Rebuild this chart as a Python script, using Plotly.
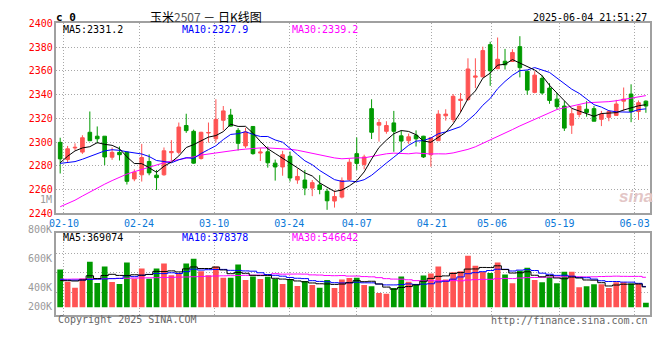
import plotly.graph_objects as go

# ---------------- data ----------------
dates = ["02-07",
         "02-10", "02-11", "02-12", "02-13", "02-14", "02-17", "02-18", "02-19", "02-20", "02-21",
         "02-24", "02-25", "02-26", "02-27", "02-28",
         "03-03", "03-04", "03-05", "03-06", "03-07", "03-10", "03-11", "03-12", "03-13", "03-14",
         "03-17", "03-18", "03-19", "03-20", "03-21", "03-24", "03-25", "03-26", "03-27", "03-28", "03-31",
         "04-01", "04-02", "04-03", "04-07", "04-08", "04-09", "04-10", "04-11", "04-14", "04-15", "04-16",
         "04-17", "04-18", "04-21", "04-22", "04-23", "04-24", "04-25", "04-28", "04-29", "04-30",
         "05-06", "05-07", "05-08", "05-09", "05-12", "05-13", "05-14", "05-15", "05-16",
         "05-19", "05-20", "05-21", "05-22", "05-23", "05-26", "05-27", "05-28", "05-29", "05-30",
         "06-03", "06-04", "06-05"]

open_ = [2299.7, 2285.2, 2295.0, 2291.5, 2308.2, 2304.9, 2304.9, 2287.2, 2291.3, 2291.5,
         2268.9, 2272.4, 2283.6, 2272.1, 2272.4, 2291.0, 2291.3, 2313.9, 2309.0, 2286.1,
         2307.6, 2302.7, 2318.3, 2322.7, 2309.8, 2296.7, 2313.1, 2290.7, 2291.8, 2282.2,
         2279.0, 2288.0, 2268.0, 2268.0, 2261.2, 2263.9, 2258.5, 2250.3, 2253.6, 2268.3,
         2290.2, 2281.1, 2328.1, 2314.2, 2309.0, 2316.1, 2305.2, 2301.1, 2305.7, 2304.9,
         2289.3, 2301.1, 2322.1, 2318.9, 2335.0, 2335.8, 2354.6, 2354.9, 2382.0, 2361.7,
         2368.0, 2367.8, 2380.3, 2359.6, 2341.8, 2353.6, 2345.4, 2336.1, 2330.3, 2314.2,
         2323.2, 2327.6, 2328.1, 2319.1, 2320.8, 2322.4, 2334.4, 2340.4, 2325.7, 2334.4]
high = [2303.6, 2296.7, 2298.9, 2305.7, 2325.7, 2313.1, 2305.0, 2295.4, 2296.2, 2292.0,
        2277.0, 2298.4, 2289.6, 2276.5, 2295.4, 2301.6, 2316.4, 2323.8, 2310.4, 2308.6,
        2316.4, 2336.0, 2330.3, 2327.9, 2311.7, 2312.0, 2313.3, 2294.8, 2296.2, 2285.2,
        2292.6, 2292.0, 2277.6, 2276.5, 2268.0, 2272.1, 2260.7, 2259.3, 2270.2, 2285.8,
        2303.8, 2289.3, 2336.0, 2319.4, 2317.5, 2326.2, 2309.8, 2307.1, 2309.8, 2305.2,
        2303.8, 2326.8, 2327.6, 2340.4, 2341.3, 2370.5, 2370.5, 2380.3, 2384.4, 2388.0,
        2378.4, 2378.1, 2389.1, 2359.6, 2359.6, 2356.3, 2349.5, 2341.3, 2334.4, 2328.4,
        2330.3, 2334.4, 2330.3, 2326.2, 2326.8, 2335.5, 2345.9, 2348.6, 2335.0, 2335.0]
low = [2273.5, 2282.5, 2292.9, 2290.0, 2300.8, 2298.9, 2280.6, 2285.0, 2284.4, 2264.2,
       2267.0, 2266.7, 2272.0, 2259.6, 2271.6, 2284.2, 2289.6, 2307.7, 2281.7, 2285.2,
       2299.5, 2299.5, 2309.8, 2313.0, 2292.9, 2294.8, 2289.3, 2284.0, 2278.4, 2267.5,
       2271.6, 2266.7, 2264.8, 2255.2, 2254.4, 2256.0, 2242.9, 2244.8, 2252.5, 2267.2,
       2276.5, 2277.0, 2302.5, 2300.3, 2307.0, 2291.8, 2291.5, 2298.4, 2296.2, 2286.6,
       2279.2, 2301.0, 2318.0, 2316.7, 2324.9, 2334.5, 2345.4, 2354.4, 2347.3, 2361.7,
       2361.0, 2367.8, 2354.4, 2339.9, 2341.0, 2339.9, 2332.2, 2327.6, 2309.3, 2306.8,
       2320.8, 2321.3, 2317.5, 2313.4, 2317.5, 2322.4, 2326.2, 2316.7, 2318.6, 2324.6]
close = [2285.8, 2294.3, 2295.5, 2303.6, 2301.1, 2302.7, 2287.4, 2291.3, 2289.3, 2266.9,
         2274.6, 2286.9, 2274.0, 2270.0, 2292.6, 2292.0, 2312.6, 2309.6, 2282.2, 2308.2,
         2308.0, 2319.1, 2326.2, 2313.4, 2298.9, 2308.5, 2290.2, 2291.5, 2282.5, 2279.0,
         2289.3, 2269.7, 2271.0, 2261.2, 2265.8, 2260.1, 2250.5, 2254.1, 2267.5, 2283.0,
         2282.0, 2287.4, 2308.2, 2316.4, 2313.9, 2309.0, 2300.8, 2304.4, 2302.7, 2287.4,
         2303.6, 2323.5, 2323.5, 2338.5, 2336.0, 2361.5, 2355.5, 2377.0, 2360.0, 2369.7,
         2365.0, 2375.4, 2362.6, 2343.7, 2356.3, 2341.3, 2335.0, 2329.8, 2311.7, 2323.8,
         2330.3, 2324.9, 2317.5, 2323.5, 2325.7, 2332.0, 2336.1, 2325.7, 2333.1, 2330.3]
# volume in thousands of lots
volume_k = [695, 470, 356, 529, 838, 445, 749, 463, 428, 820,
            524, 713, 524, 713, 802, 588, 618, 802, 891, 659,
            588, 749, 542, 542, 784, 499, 565, 517, 559, 517,
            428, 517, 392, 481, 410, 356, 499, 351, 511, 535,
            542, 410, 387, 262, 249, 351, 565, 470, 417, 583,
            618, 749, 511, 642, 659, 945, 761, 649, 631, 820,
            601, 440, 672, 725, 499, 458, 565, 440, 654, 654,
            369, 387, 422, 422, 351, 458, 458, 434, 434, 84]
volume = [v * 1000 for v in volume_k]

# moving-average values before enough history is on screen
ma5_head = [2282.5, 2288.0, 2292.5, 2295.0]
ma10_head = [2282.0, 2282.5, 2283.5, 2285.5, 2288.0, 2290.5, 2292.5, 2293.5, 2293.0]
ma30_head = [2245.5, 2248.0, 2251.0, 2254.5, 2258.0, 2261.0, 2264.5, 2267.5, 2270.5, 2273.0,
             2275.0, 2277.0, 2279.0, 2281.0, 2282.5, 2284.0, 2285.0, 2286.3, 2287.5, 2289.0,
             2290.0, 2290.7, 2291.5, 2292.5, 2293.4, 2294.0, 2294.8, 2295.0, 2295.0]
vma5_head = [490e3, 488e3, 482e3, 500e3]
vma10_head = [505e3, 500e3, 498e3, 500e3, 510e3, 515e3, 520e3, 525e3, 530e3]
vma30_head = [515e3, 515e3, 517e3, 518e3, 520e3, 522e3, 525e3, 527e3, 530e3, 532e3,
              535e3, 538e3, 540e3, 543e3, 546e3, 549e3, 552e3, 556e3, 560e3, 565e3,
              570e3, 574e3, 577e3, 580e3, 583e3, 586e3, 589e3, 592e3, 595e3]

axis_labels = ["02-10", "02-24", "03-10", "03-24", "04-07", "04-21", "05-06", "05-19", "06-03"]
price_ticks = [2240, 2260, 2280, 2300, 2320, 2340, 2360, 2380, 2400]
vol_labels = ["800K", "600K", "400K", "200K"]

title_text = "玉米<span style='color:#555'>2507</span> － 日K线图"
stamp_text = "2025-06-04 21:51:27"
price_ma_text = ["MA5:2331.2", "MA10:2327.9", "MA30:2339.2"]
vol_ma_text = ["MA5:369074", "MA10:378378", "MA30:546642"]


def moving_avg(vals, n, head):
    out = list(head)
    for i in range(n - 1, len(vals)):
        out.append(sum(vals[i - n + 1:i + 1]) / n)
    return out


ma5 = moving_avg(close, 5, ma5_head)
ma10 = moving_avg(close, 10, ma10_head)
ma30 = moving_avg(close, 30, ma30_head)
vma5 = moving_avg(volume, 5, vma5_head)
vma10 = moving_avg(volume, 10, vma10_head)
vma30 = moving_avg(volume, 30, vma30_head)

# ---------------- styling ----------------
W, H = 660, 360
RED = "#ff5353"
GREEN = "#009a00"
MA_COLORS = ["#000000", "#0000ff", "#ff00ff"]
GRID = "#a8a8a8"
DOT = "1px,2px"
FRAME = "#a0a0a0"
MONO = "DejaVu Sans Mono"

N = len(dates)
xs = list(range(N))
X0, X1 = 50, 649.5
P_TOP, P_BOT = 17.8, 213.8
V_TOP, V_BOT = 234.3, 318.3
V_ZERO = 310.7          # pixel row of zero volume
V_PPM = 56.1            # pixels per 1M volume


def py(px):
    return 1 - px / H


vol_range = [-(V_BOT - V_ZERO) / V_PPM * 1e6, (V_ZERO - V_TOP) / V_PPM * 1e6]
vol_grid = [(V_ZERO - g) / V_PPM * 1e6 for g in (255.0, 275.3, 295.3)]

tick_idx = [dates.index(d) for d in axis_labels]
tick_pos = [k * N / (N - 1) - 0.5 for k in tick_idx]

fig = go.Figure()
fig.add_trace(go.Candlestick(
    x=xs, open=open_, high=high, low=low, close=close,
    increasing=dict(line=dict(color=RED, width=1), fillcolor=RED),
    decreasing=dict(line=dict(color=GREEN, width=1), fillcolor=GREEN),
    whiskerwidth=0, xaxis="x", yaxis="y", hoverinfo="skip", showlegend=False))
for vals, col in zip([ma30, ma10, ma5], MA_COLORS[::-1]):
    fig.add_trace(go.Scatter(x=xs, y=vals, mode="lines", line=dict(color=col, width=1),
                             xaxis="x", yaxis="y", hoverinfo="skip", showlegend=False))

bar_colors = [RED if c >= o else GREEN for o, c in zip(open_, close)]
fig.add_trace(go.Bar(x=xs, y=volume, marker=dict(color=bar_colors, line=dict(width=0)),
                     width=0.77, xaxis="x2", yaxis="y2", hoverinfo="skip", showlegend=False))
for vals, col in zip([vma30, vma10, vma5], MA_COLORS[::-1]):
    fig.add_trace(go.Scatter(x=xs, y=vals, mode="lines", line=dict(color=col, width=1, shape="hvh"),
                             xaxis="x2", yaxis="y2", hoverinfo="skip", showlegend=False))

common_x = dict(domain=[X0 / W, X1 / W], range=[-0.5, N - 0.5], tickvals=tick_pos,
                showgrid=True, gridcolor=GRID, griddash=DOT, gridwidth=1,
                showline=True, mirror=True, linecolor=FRAME, linewidth=1.5,
                zeroline=False, ticks="", fixedrange=True)

annotations = []


def txt(x, y, s, color="#000", size=10, anchor="left", family=MONO, weight=None):
    f = dict(family=family, size=size, color=color)
    if weight:
        f["weight"] = weight
    annotations.append(dict(x=x / W, y=py(y), xref="paper", yref="paper", text=s, showarrow=False,
                            xanchor=anchor, yanchor="middle", font=f))


txt(48, 12, "c 0", size=11, weight="bold")
txt(201, 11, title_text, size=12, anchor="center", family="Noto Sans CJK SC")
txt(649, 12, stamp_text, anchor="right")
for s, x0, col in zip(price_ma_text, (55, 175, 286), MA_COLORS):
    txt(x0, 24, s, color=col)
for s, x0, col in zip(vol_ma_text, (55, 175, 286), MA_COLORS):
    txt(x0, 238.5, s, color=col)
for s, yv in zip(vol_labels, (231, 260.7, 290, 310)):
    txt(47, yv, s, color="#999", anchor="right")
txt(47, 200, "1M", color="#999", anchor="right")
txt(50, 323.5, "Copyright 2025 SINA.COM", color="#666")
txt(649.5, 324, "http://finance.sina.com.cn", color="#666", anchor="right")
txt(636, 197, "<i><b>sina</b></i>", color="#e3c6c6", size=17, anchor="center", family="Arial, Liberation Sans")

fig.update_layout(
    width=W, height=H, margin=dict(l=0, r=0, t=0, b=0),
    paper_bgcolor="white", plot_bgcolor="white", showlegend=False,
    boxgap=0.3, bargap=0.2,
    xaxis=dict(common_x, anchor="y", ticktext=axis_labels, showticklabels=True,
               tickfont=dict(family=MONO, size=10, color="#0a78d8"),
               rangeslider=dict(visible=False)),
    yaxis=dict(domain=[py(P_BOT), py(P_TOP)], range=[2240, 2400], tickvals=price_ticks,
               tickfont=dict(family=MONO, size=10, color="#ff0000"),
               showgrid=True, gridcolor=GRID, griddash=DOT, gridwidth=1,
               showline=True, mirror=True, linecolor=FRAME, linewidth=1.5,
               zeroline=False, ticks="", fixedrange=True, anchor="x"),
    xaxis2=dict(common_x, anchor="y2", showticklabels=False),
    yaxis2=dict(domain=[py(V_BOT), py(V_TOP)], range=vol_range, tickvals=vol_grid,
                showticklabels=False, showgrid=True, gridcolor=GRID, griddash=DOT, gridwidth=1,
                showline=True, mirror=True, linecolor=FRAME, linewidth=1.5,
                zeroline=False, ticks="", fixedrange=True, anchor="x2"),
    annotations=annotations,
)

fig.write_html("out.html")
